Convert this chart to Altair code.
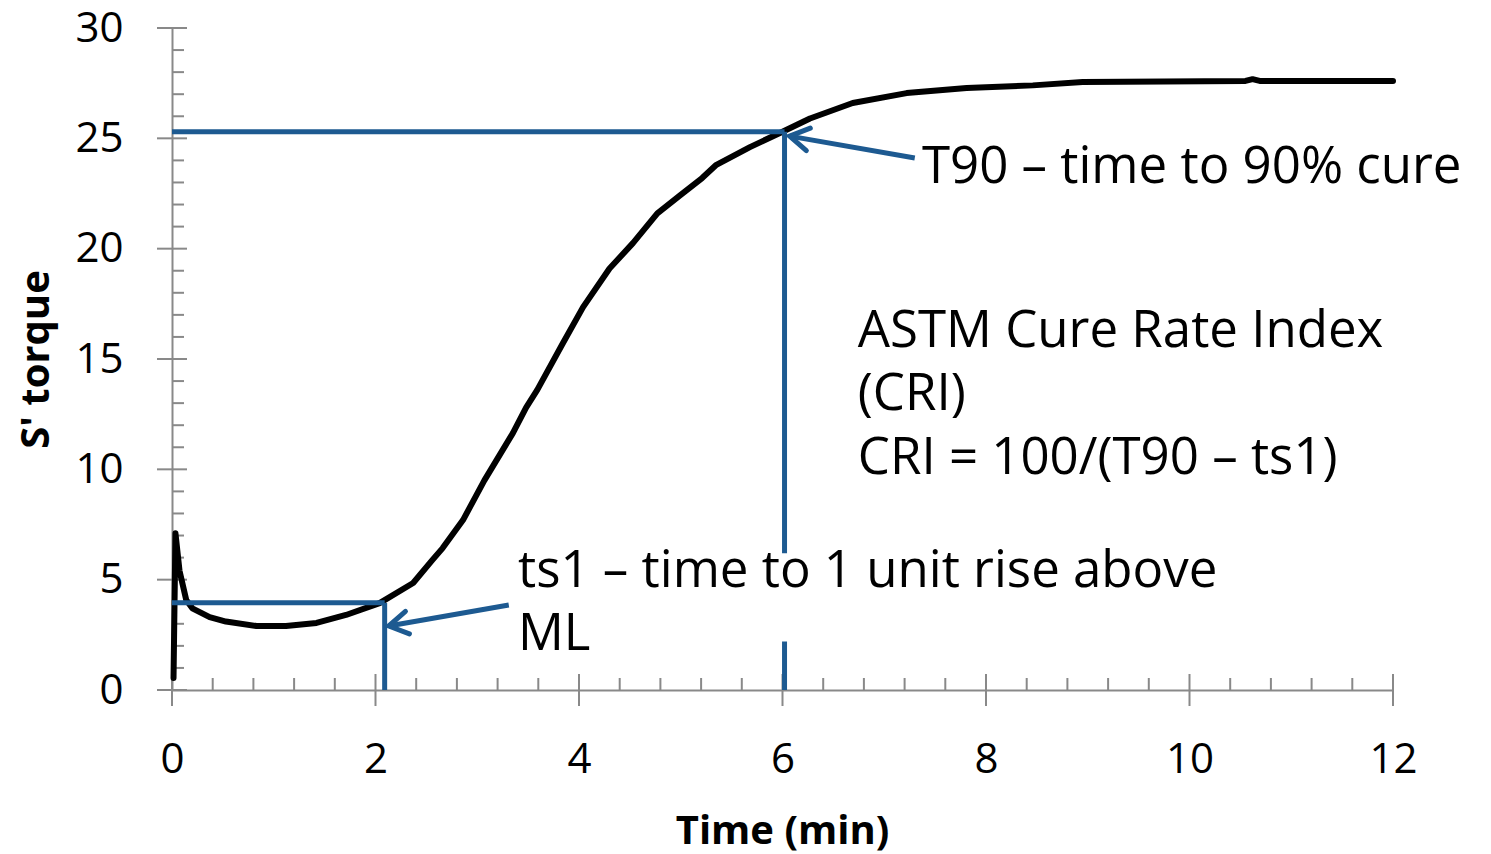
import altair as alt
import pandas as pd

# ---- data ----
time_min = [0.015, 0.034, 0.074, 0.14, 0.2, 0.37, 0.53, 0.83, 1.12, 1.42, 1.71, 2.04,
            2.37, 2.56, 2.66, 2.86, 3.07, 3.35, 3.48, 3.59, 3.84, 4.04, 4.3, 4.53,
            4.77, 4.99, 5.21, 5.35, 5.68, 6.0, 6.27, 6.69, 7.22, 7.81, 8.46, 8.95,
            10.55, 10.62, 10.69, 12.0]
torque = [0.54, 7.1, 5.4, 4.08, 3.7, 3.3, 3.1, 2.9, 2.9, 3.04, 3.4, 3.94,
          4.85, 5.9, 6.43, 7.7, 9.5, 11.64, 12.8, 13.6, 15.7, 17.35, 19.1, 20.25,
          21.6, 22.4, 23.2, 23.8, 24.6, 25.3, 25.9, 26.6, 27.05, 27.28, 27.4, 27.55,
          27.6, 27.68, 27.6, 27.6]

# guide lines (T90 and ts1)
guide_x = [0, 6.02, 0, 2.09]
guide_x2 = [6.02, 6.02, 2.09, 2.09]
guide_y = [25.3, 25.3, 3.95, 3.95]
guide_y2 = [25.3, 0, 3.95, 0]

# arrows: tail -> tip
arrow_x = [7.30, 3.31]
arrow_y = [24.11, 3.85]
arrow_tip_x = [6.07, 2.13]
arrow_tip_y = [25.10, 2.90]
arrow_angle = [190, 170]

# white text box behind the ts1 label
box_x = [3.3]
box_x2 = [10.5]
box_y = [2.2]
box_y2 = [6.2]

# annotations
note_text = ["T90 \u2013 time to 90% cure",
             "ASTM Cure Rate Index",
             "(CRI)",
             "CRI =  100/(T90 \u2013 ts1)",
             "ts1 \u2013 time to 1 unit rise above",
             "ML"]
note_x = [7.37, 6.74, 6.74, 6.74, 3.40, 3.40]
note_y = [22.97, 15.54, 12.69, 9.79, 4.65, 1.82]

x_major = [0, 2, 4, 6, 8, 10, 12]
x_minor = [0.4, 0.8, 1.2, 1.6, 2.4, 2.8, 3.2, 3.6, 4.4, 4.8, 5.2, 5.6, 6.4, 6.8, 7.2, 7.6,
           8.4, 8.8, 9.2, 9.6, 10.4, 10.8, 11.2, 11.6]
y_major = [0, 5, 10, 15, 20, 25, 30]
y_minor = [1, 2, 3, 4, 6, 7, 8, 9, 11, 12, 13, 14, 16, 17, 18, 19, 21, 22, 23, 24, 26, 27, 28, 29]

FONT = "Open Sans"
BLUE = "#1d5a91"
GRAY = "#898989"

xscale = alt.Scale(domain=[0, 12], nice=False, zero=False)
yscale = alt.Scale(domain=[0, 30], nice=False, zero=False)

xaxis = alt.Axis(values=x_major, format="d", ticks=False, grid=False, domainColor=GRAY,
                 domainWidth=2, labelFlush=False, labelOverlap=False,
                 labelFont=FONT, labelFontSize=42, labelColor="black", labelPadding=49,
                 title="Time (min)", titleFont=FONT, titleFontSize=40, titleFontWeight="bold",
                 titleColor="black", titleX=610, titleY=153, titleBaseline="alphabetic",
                 titleAnchor="middle")
yaxis = alt.Axis(values=y_major, format="d", ticks=False, grid=False, domainColor=GRAY,
                 domainWidth=2, labelFlush=False, labelOverlap=False,
                 labelFont=FONT, labelFontSize=42, labelColor="black", labelPadding=49,
                 title="S' torque", titleFont=FONT, titleFontSize=40, titleFontWeight="bold",
                 titleColor="black", titleAngle=270, titleX=-124, titleY=331,
                 titleBaseline="alphabetic", titleAlign="center")


def X(field, axis=False):
    if axis:
        return alt.X(field, type="quantitative", scale=xscale, axis=xaxis, title="Time (min)")
    return alt.X(field, type="quantitative", scale=xscale, title="Time (min)")


def Y(field, axis=False):
    if axis:
        return alt.Y(field, type="quantitative", scale=yscale, axis=yaxis, title="S' torque")
    return alt.Y(field, type="quantitative", scale=yscale, title="S' torque")


curve_df = pd.DataFrame({"t": time_min, "s": torque, "o": list(range(len(time_min)))})
curve = alt.Chart(curve_df).mark_line(color="black", strokeWidth=6, strokeCap="round",
                                      strokeJoin="round").encode(
    x=X("t", axis=True), y=Y("s", axis=True), order="o:Q")

guide_df = pd.DataFrame({"x": guide_x, "x2": guide_x2, "y": guide_y, "y2": guide_y2})
guides = alt.Chart(guide_df).mark_rule(color=BLUE, strokeWidth=5).encode(
    x=X("x"), x2="x2:Q", y=Y("y"), y2="y2:Q")

box_df = pd.DataFrame({"x": box_x, "x2": box_x2, "y": box_y, "y2": box_y2})
box = alt.Chart(box_df).mark_rect(color="white").encode(
    x=X("x"), x2="x2:Q", y=Y("y"), y2="y2:Q")

arrow_df = pd.DataFrame({"x": arrow_x, "y": arrow_y, "tx": arrow_tip_x, "ty": arrow_tip_y,
                         "a": arrow_angle})
shafts = alt.Chart(arrow_df).mark_rule(color=BLUE, strokeWidth=5).encode(
    x=X("x"), x2="tx:Q", y=Y("y"), y2="ty:Q")
heads = alt.Chart(arrow_df).mark_point(
    shape="M -1 -0.6 L 0 0 L -1 0.6", filled=False, stroke=BLUE, strokeWidth=5,
    size=1444, opacity=1, strokeCap="round", strokeJoin="miter").encode(
    x=X("tx"), y=Y("ty"), angle=alt.Angle("a:Q", scale=None))

tick_style = dict(color=GRAY, thickness=2, opacity=1)
xmaj = alt.Chart(pd.DataFrame({"v": x_major})).mark_tick(orient="vertical", size=32, **tick_style).encode(
    x=X("v"), y=alt.datum(0))
xmin = alt.Chart(pd.DataFrame({"v": x_minor})).mark_tick(orient="vertical", size=12, yOffset=-6,
                                                         **tick_style).encode(
    x=X("v"), y=alt.datum(0))
ymaj = alt.Chart(pd.DataFrame({"v": y_major})).mark_tick(orient="horizontal", size=30, **tick_style).encode(
    y=Y("v"), x=alt.datum(0))
ymin = alt.Chart(pd.DataFrame({"v": y_minor})).mark_tick(orient="horizontal", size=12, xOffset=6,
                                                         **tick_style).encode(
    y=Y("v"), x=alt.datum(0))

note_df = pd.DataFrame({"x": note_x, "y": note_y, "label": note_text})
notes = alt.Chart(note_df).mark_text(font=FONT, fontSize=51, color="black", align="left",
                                     baseline="alphabetic").encode(
    x=X("x"), y=Y("y"), text="label:N")

chart = alt.layer(xmaj, xmin, ymaj, ymin, curve, guides, box, shafts, heads, notes).properties(
    width=1221, height=662,
    autosize=alt.AutoSizeParams(type="none"),
    padding={"left": 172, "top": 28, "right": 98, "bottom": 164},
    background="white",
).configure_view(stroke=None)

chart.save("out.html", embed_options={"renderer": "svg", "actions": False})
